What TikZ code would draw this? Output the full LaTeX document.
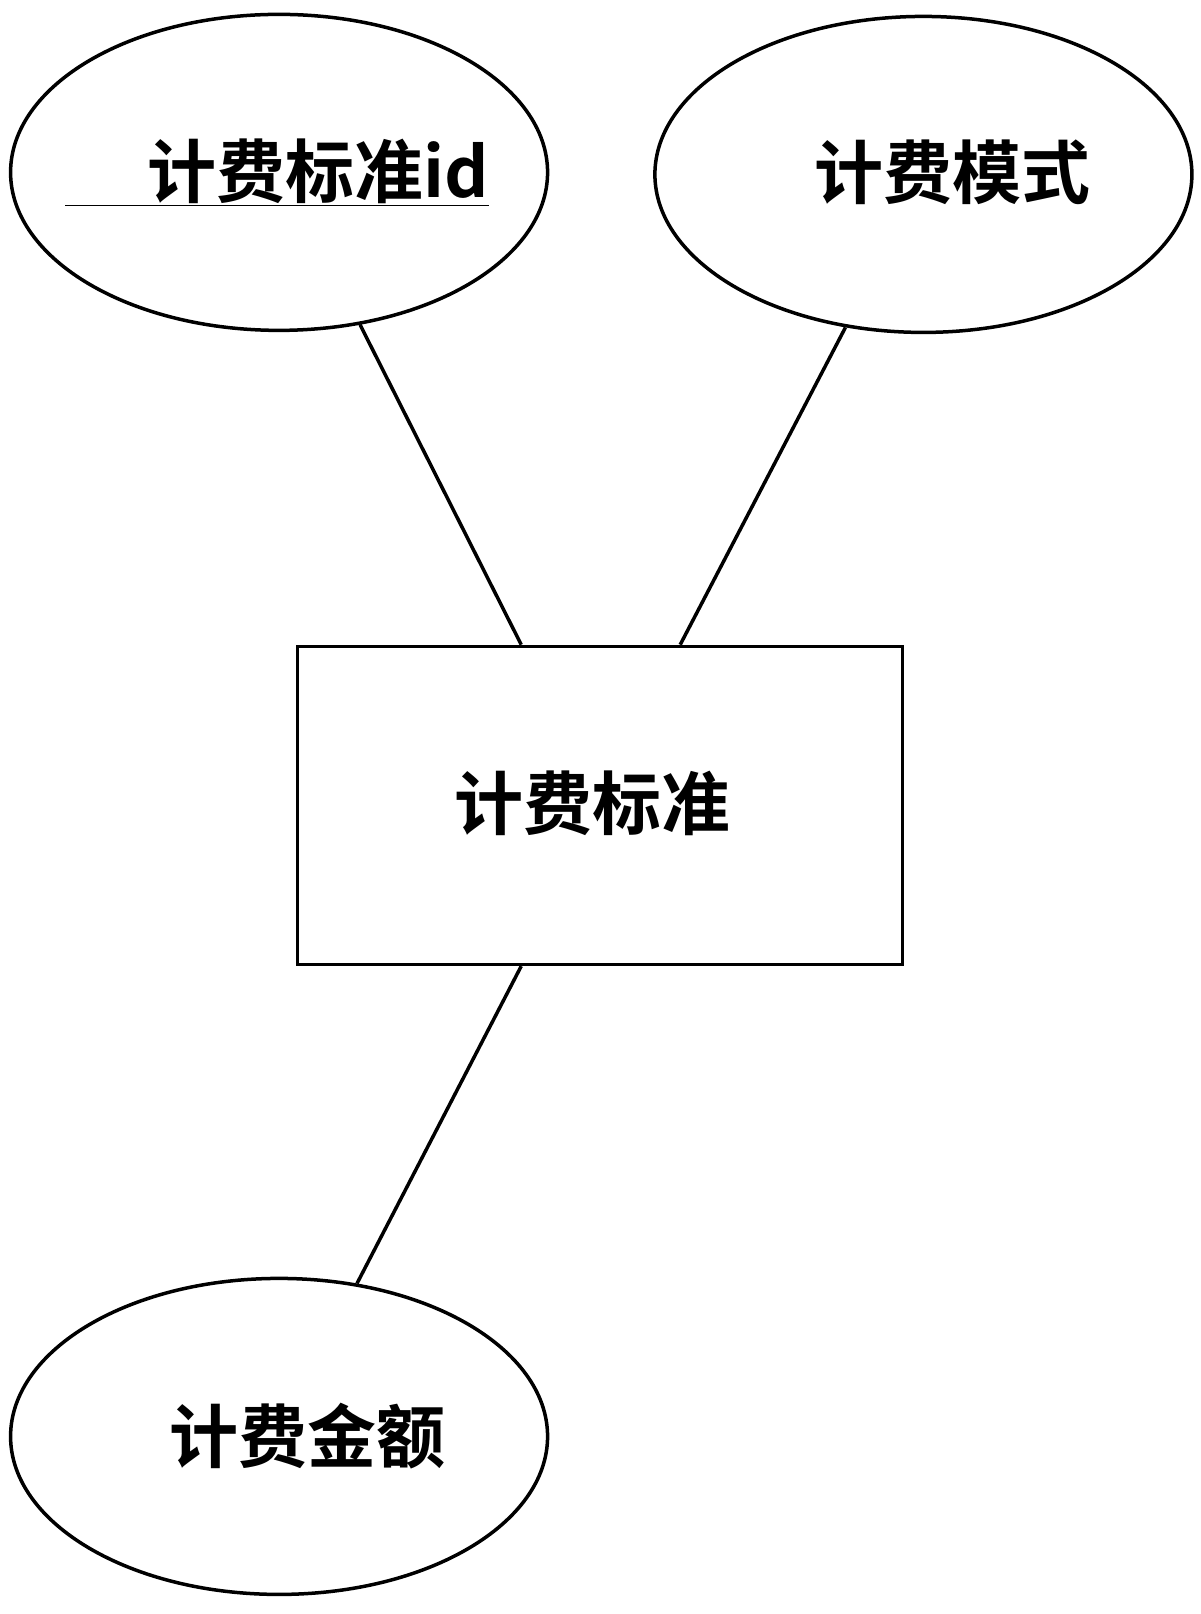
\documentclass[tikz,border=0pt]{standalone}
\usepackage{fontspec}
\newfontfamily\cjk{Noto Sans CJK SC Bold}
\usetikzlibrary{shapes.geometric}
\begin{document}
\begin{tikzpicture}[x=1.026pt,y=-1.026pt,
  attr/.style={ellipse,draw,line width=3.5pt,minimum width=537pt,minimum height=316pt,inner sep=0pt},
  ent/.style={rectangle,draw,line width=3.5pt,minimum width=605pt,minimum height=318pt},
  txt/.style={font=\cjk\fontsize{69}{72}\selectfont},
  link/.style={line width=3.5pt}]
\useasboundingbox (0,0) rectangle (1169.6,1573.1);
\node[attr] (e1) at (272,168) {};
\node[txt,anchor=west] (t1) at (60,168) {\underline{\hspace{82pt}计费标准id}};
\node[attr] (e2) at (900,170) {};
\node[txt,anchor=west] (t2) at (790,168) {计费模式};
\node[ent] (r) at (585,785) {};
\node[txt,anchor=west] (t3) at (440,783) {计费标准};
\node[attr] (e3) at (272,1400) {};
\node[txt,anchor=west] (t4) at (162,1400) {计费金额};
\draw[link] (e1.-62.8) -- ([xshift=-79pt]r.north);
\draw[link] (e2.-117.5) -- ([xshift=80pt]r.north);
\draw[link] ([xshift=-79pt]r.south) -- (e3.63);
\end{tikzpicture}
\end{document}
